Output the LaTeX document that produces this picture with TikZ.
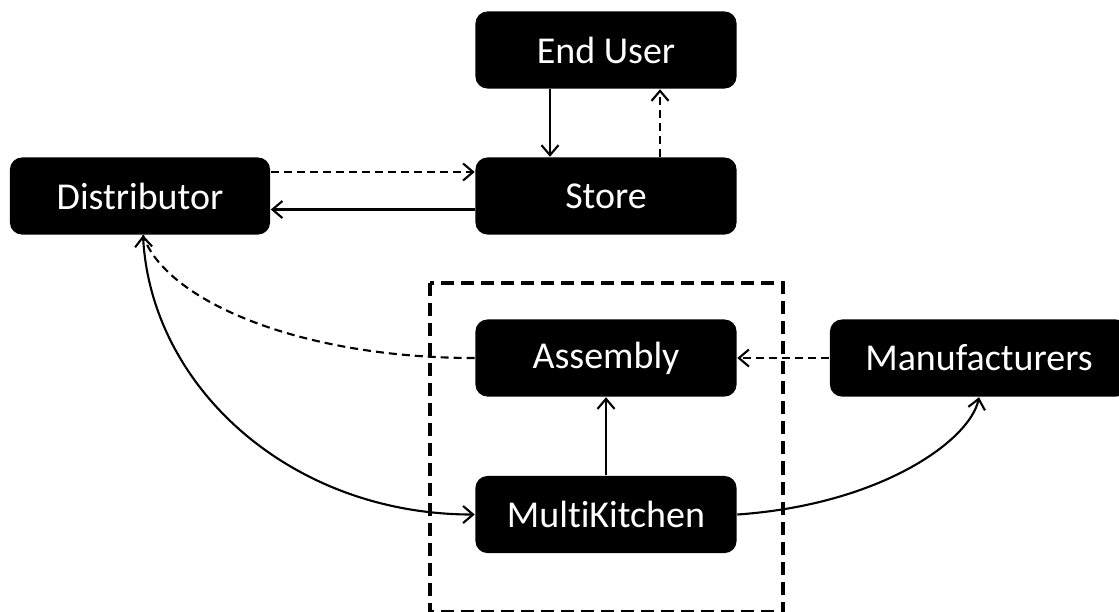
\documentclass[tikz,border=0pt]{standalone}
\usepackage{fontspec}
\setmainfont{Carlito}[Ligatures=NoCommon]
\usetikzlibrary{arrows.meta}
\begin{document}
\begin{tikzpicture}[x=0.01cm,y=-0.01cm,
  block/.style={fill=black,text=white,rounded corners=0.12cm,
    minimum width=2.61cm,minimum height=0.77cm,inner sep=0pt,
    font=\fontsize{10.8pt}{13pt}\selectfont},
  link/.style={line width=0.6pt,-{Straight Barb[length=1mm,width=1.7mm]}},
  both/.style={line width=0.6pt,{Straight Barb[length=1mm,width=1.7mm]}-{Straight Barb[length=1mm,width=1.7mm]}},
  dlink/.style={link,dash pattern=on 0.08cm off 0.05cm},
  group/.style={line width=1.3pt,dash pattern=on 0.13cm off 0.07cm}]
\useasboundingbox (0,0) rectangle (1119,611);
\clip (0,0) rectangle (1119,611);

% grouping frame around assembly and kitchen
\draw[group] (430,283) rectangle (783,612.5);

\node[block] (eu) at (606,50) {End User};
\node[block] (st) at (606,196) {Store};
\node[block,minimum width=2.60cm] (di) at (140,196) {Distributor};
\node[block] (as) at (606,358) {Assembly};
\node[block] (mk) at (606,514.5) {MultiKitchen};
\node[block,minimum width=2.98cm] (ma) at (979,358) {Manufacturers};

% straight connectors
\draw[link] ([xshift=-0.56cm]eu.south) -- ([xshift=-0.56cm]st.north);
\draw[dlink] ([xshift=0.54cm]st.north) -- ([xshift=0.54cm]eu.south);
\draw[dlink] ([yshift=0.24cm]di.east) -- ([yshift=0.24cm]st.west);
\draw[link] ([yshift=-0.135cm]st.west) -- ([yshift=-0.135cm]di.east);
\draw[link] (mk.north) -- (as.south);
\draw[dlink] (ma.west) -- (as.east);

% curved connectors
\coordinate (dd) at ([xshift=0.03cm]di.south);
\draw[line width=0.6pt,dash pattern=on 0.08cm off 0.05cm]
  (as.west) .. controls +(-176,0) and +(22,65) .. (dd);
\draw[both] (dd) .. controls +(8,152) and +(-184,0) .. (mk.west);
\draw[link] (mk.east) .. controls +(144,-10) and +(-9,43) .. (ma.south);
\end{tikzpicture}
\end{document}
